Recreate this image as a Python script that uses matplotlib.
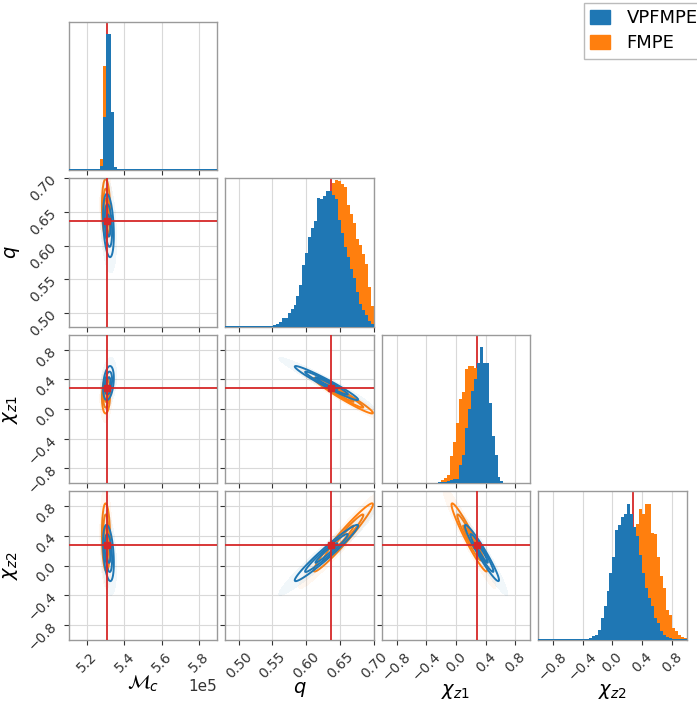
import numpy as np
import matplotlib.pyplot as plt
from matplotlib.patches import Patch

# parameters
labels = [r'$\mathcal{M}_c$', r'$q$', r'$\chi_{z1}$', r'$\chi_{z2}$']
limits = [(5.1e5, 5.9e5), (0.48, 0.70), (-1.0, 1.0), (-1.0, 1.0)]
ticks = [[5.2e5, 5.4e5, 5.6e5, 5.8e5],
         [0.50, 0.55, 0.60, 0.65, 0.70],
         [-0.8, -0.4, 0.0, 0.4, 0.8],
         [-0.8, -0.4, 0.0, 0.4, 0.8]]
truths = [5.307e5, 0.636, 0.29, 0.275]

# marginal histograms (heights as fraction of panel height)
mc_edges = [5.10e5, 5.268e5, 5.284e5, 5.300e5, 5.314e5, 5.328e5, 5.344e5, 5.360e5, 5.90e5]
mc_blue = [0.004, 0.03, 0.36, 0.917, 0.917, 0.393, 0.018, 0.004]
mc_orange = [0.0, 0.074, 0.70, 0.80, 0.50, 0.30, 0.02, 0.0]

q_blue = [0.004] * 16 + [0.011, 0.018, 0.034, 0.056, 0.06, 0.09, 0.117, 0.146, 0.207, 0.281,
                         0.416, 0.499, 0.607, 0.663, 0.715, 0.865, 0.858, 0.881, 0.917, 0.917,
                         0.888, 0.858, 0.72, 0.63, 0.54, 0.47, 0.39, 0.33, 0.23, 0.155,
                         0.115, 0.075, 0.04, 0.015]
q_orange = [0.0] * 20 + [0.01, 0.02, 0.03, 0.05, 0.07, 0.10, 0.14, 0.20, 0.26, 0.33,
                         0.42, 0.52, 0.62, 0.72, 0.80, 0.86, 0.97, 0.99, 0.98, 0.96,
                         0.94, 0.82, 0.76, 0.70, 0.59, 0.55, 0.49, 0.42, 0.27, 0.14]

chi1_blue = [0.003] * 19 + [0.005, 0.008, 0.01, 0.015, 0.02, 0.025, 0.03, 0.12, 0.19, 0.37,
                            0.50, 0.62, 0.70, 0.81, 0.92, 0.81, 0.81, 0.54, 0.32, 0.19,
                            0.04, 0.013] + [0.003] * 9
chi1_orange = [0.0] * 19 + [0.007, 0.018, 0.036, 0.056, 0.182, 0.281, 0.407, 0.57, 0.615, 0.77,
                            0.79, 0.79, 0.78, 0.60, 0.45, 0.30, 0.18, 0.08, 0.03, 0.01] + [0.0] * 11

chi2_blue = [0.003] * 16 + [0.007, 0.011, 0.027, 0.034, 0.067, 0.146, 0.225, 0.326, 0.45, 0.56,
                            0.74, 0.775, 0.83, 0.85, 0.915, 0.85, 0.76, 0.70, 0.57, 0.45,
                            0.35, 0.28, 0.225, 0.146, 0.11, 0.056, 0.034, 0.018, 0.011, 0.005] + [0.003] * 4
chi2_orange = [0.0] * 20 + [0.005, 0.01, 0.02, 0.03, 0.05, 0.08, 0.12, 0.18, 0.25, 0.34,
                            0.45, 0.56, 0.70, 0.78, 0.88, 0.85, 0.915, 0.915, 0.72, 0.71,
                            0.56, 0.43, 0.35, 0.20, 0.17, 0.08, 0.06, 0.034, 0.02, 0.011]

# 2D posterior summaries used for the contour panels
blue_mean = [5.314e5, 0.630, 0.35, 0.17]
blue_sd = [0.0145e5, 0.0235, 0.115, 0.19]
blue_corr = [[1.0, -0.3, 0.3, -0.35],
             [-0.3, 1.0, -0.97, 0.97],
             [0.3, -0.97, 1.0, -0.96],
             [-0.35, 0.97, -0.96, 1.0]]
orange_mean = [5.301e5, 0.655, 0.18, 0.38]
orange_sd = [0.011e5, 0.022, 0.12, 0.23]
orange_corr = [[1.0, -0.1, 0.1, -0.1],
               [-0.1, 1.0, -0.97, 0.97],
               [0.1, -0.97, 1.0, -0.96],
               [-0.1, 0.97, -0.96, 1.0]]

BLUE = '#1f77b4'
ORANGE = '#ff7f0e'
RED = '#d62728'

hist_blue = [mc_blue, q_blue, chi1_blue, chi2_blue]
hist_orange = [mc_orange, q_orange, chi1_orange, chi2_orange]


def radius_grid(xg, yg, mean, sd, corr, i, j):
    X, Y = np.meshgrid(xg, yg)
    dx = (X - mean[j]) / sd[j]
    dy = (Y - mean[i]) / sd[i]
    rho = corr[i][j]
    r2 = (dx ** 2 - 2 * rho * dx * dy + dy ** 2) / (1 - rho ** 2)
    return X, Y, np.sqrt(r2)


def style_axis(ax):
    for sp in ax.spines.values():
        sp.set_color('#9a9a9a')
        sp.set_linewidth(1.0)
    ax.tick_params(colors='#333333', labelsize=10, length=3.5, width=0.8)
    ax.grid(True, color='#d9d9d9', linewidth=0.8)
    ax.set_axisbelow(True)


fig, axes = plt.subplots(4, 4, figsize=(6.97, 7.02), dpi=100)
fig.subplots_adjust(left=0.0986, right=0.9852, bottom=0.0887, top=0.969,
                    wspace=0.054, hspace=0.056)

n = len(labels)
radii = [0.7, 1.35, 2.0]
for i in range(n):
    for j in range(n):
        ax = axes[i, j]
        if j > i:
            ax.set_visible(False)
            continue
        style_axis(ax)
        ax.set_xlim(*limits[j])
        ax.set_xticks(ticks[j])
        if i == j:
            if i == 0:
                edges = np.array(mc_edges)
            else:
                edges = np.linspace(limits[i][0], limits[i][1], 51)
            ax.axvline(truths[i], color=RED, lw=1.3, zorder=1)
            ax.stairs(hist_orange[i], edges, fill=True, color=ORANGE, zorder=2)
            ax.stairs(hist_blue[i], edges, fill=True, color=BLUE, zorder=3)
            ax.set_ylim(0, 1.0)
            ax.set_yticks([])
        else:
            ax.set_ylim(*limits[i])
            ax.set_yticks(ticks[i])
            xg = np.linspace(limits[j][0], limits[j][1], 300)
            yg = np.linspace(limits[i][0], limits[i][1], 300)
            for mean, sd, corr, col, z in [(orange_mean, orange_sd, orange_corr, ORANGE, 2),
                                           (blue_mean, blue_sd, blue_corr, BLUE, 3)]:
                X, Y, R = radius_grid(xg, yg, mean, sd, corr, i, j)
                ax.contourf(X, Y, R, levels=[0, 3.0], colors=[col], alpha=0.06, zorder=z)
                ax.contour(X, Y, R, levels=radii, colors=[col], linewidths=1.4, zorder=z)
            ax.axvline(truths[j], color=RED, lw=1.3, zorder=4)
            ax.axhline(truths[i], color=RED, lw=1.3, zorder=4)
            ax.plot(truths[j], truths[i], 's', color=RED, ms=4, zorder=5)

        if i == n - 1:
            ax.set_xlabel(labels[j], fontsize=14, labelpad=-1)
            for lab in ax.get_xticklabels():
                lab.set_rotation(45)
            if j == 0:
                ax.ticklabel_format(axis='x', style='sci', scilimits=(0, 0), useOffset=False)
                ax.xaxis.get_offset_text().set_fontsize(11)
        else:
            ax.tick_params(labelbottom=False)
        if j == 0 and i > 0:
            ax.set_ylabel(labels[i], fontsize=14)
            for lab in ax.get_yticklabels():
                lab.set_rotation(45)
        else:
            ax.tick_params(labelleft=False)

handles = [Patch(color=BLUE, label='VPFMPE'), Patch(color=ORANGE, label='FMPE')]
fig.legend(handles=handles, loc='upper left', bbox_to_anchor=(0.825, 1.009),
           fontsize=13, handlelength=1.1, handleheight=0.8, handletextpad=0.9,
           labelspacing=0.4, borderpad=0.35, framealpha=1.0,
           edgecolor='#bbbbbb', fancybox=False)

fig.savefig('out.png', dpi=100)
